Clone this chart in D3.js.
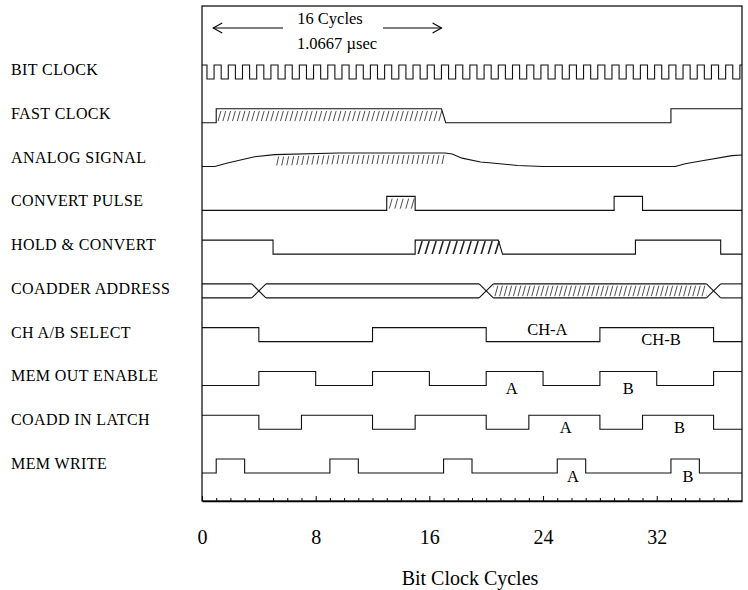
<!DOCTYPE html>
<html>
<head>
<meta charset="utf-8">
<script src="https://cdn.jsdelivr.net/npm/d3@7"></script>
<style>
  body { margin: 0; background: #fff; }
  svg text { font-family: "Liberation Serif", "Times New Roman", serif; fill: #000; }
</style>
</head>
<body>
<div id="chart"></div>
<script>
// signal rows, top to bottom
var signalNames = ["BIT CLOCK", "FAST CLOCK", "ANALOG SIGNAL", "CONVERT PULSE", "HOLD & CONVERT",
  "COADDER ADDRESS", "CH A/B SELECT", "MEM OUT ENABLE", "COADD IN LATCH", "MEM WRITE"];

// bit clock: one pulse per cycle, low between these fractions of the cycle
var bitClockCycles = [0,1,2,3,4,5,6,7,8,9,10,11,12,13,14,15,16,17,18,19,20,21,22,23,24,25,26,27,28,29,30,31,32,33,34,35,36,37];
var bitClockLow = [0.35, 0.85];

// digital signals: level at cycle 0, then the cycles where the level flips
var fastClockEdges = [1, 17, 33];
var convertPulseEdges = [13, 15, 29, 31];
var holdConvertEdges = [5, 15, 21, 30.5, 36.5];
var chSelectEdges = [4, 12, 20, 28, 36];
var memOutEdges = [4, 8, 12, 16, 20, 24, 28, 32, 36];
var coaddLatchEdges = [4, 7, 12, 15, 20, 23, 28, 31, 36];
var memWriteEdges = [1, 3, 9, 11, 17, 19, 25, 27, 33, 35];
var digitalRows = [
  ["FAST CLOCK", 0, fastClockEdges],
  ["CONVERT PULSE", 0, convertPulseEdges],
  ["HOLD & CONVERT", 1, holdConvertEdges],
  ["CH A/B SELECT", 1, chSelectEdges],
  ["MEM OUT ENABLE", 0, memOutEdges],
  ["COADD IN LATCH", 1, coaddLatchEdges],
  ["MEM WRITE", 0, memWriteEdges]
];
// edges drawn leaning (end of a hatched stretch)
var slantedEdges = [["FAST CLOCK", 17], ["HOLD & CONVERT", 21]];

// analog signal, level 0..1
var analogCycles = [0, 0.9, 1.8, 3.7, 5.1, 9.6, 17.1, 17.6, 18.3, 19.6, 20.4, 22.2, 24, 33.3, 34.0, 35.1, 37.3, 38];
var analogLevels = [0, 0, 0.25, 0.70, 0.85, 0.97, 0.97, 0.9, 0.6, 0.32, 0.25, 0.08, 0, 0, 0.2, 0.4, 0.78, 0.83];

// coadder address bus crossings
var addressCrossings = [4, 20, 36];

// hatched stretches [row, from, to]
var hatchSpans = [
  ["FAST CLOCK", 1, 16.9],
  ["ANALOG SIGNAL", 5.1, 17.1],
  ["CONVERT PULSE", 13, 15],
  ["HOLD & CONVERT", 15, 21],
  ["COADDER ADDRESS", 20.5, 35.5]
];

// text inside the waveforms [row, cycle, text, level]
var waveLabels = [
  ["CH A/B SELECT", 24.3, "CH-A", 0.8],
  ["CH A/B SELECT", 32.3, "CH-B", 0.15],
  ["MEM OUT ENABLE", 21.8, "A", -0.25],
  ["MEM OUT ENABLE", 30, "B", -0.25],
  ["COADD IN LATCH", 25.6, "A", 0.1],
  ["COADD IN LATCH", 33.6, "B", 0.1],
  ["MEM WRITE", 26.1, "A", -0.3],
  ["MEM WRITE", 34.2, "B", -0.3]
];

var minorTicks = [1,2,3,4,5,6,7,9,10,11,12,13,14,15,17,18,19,20,21,22,23,25,26,27,28,29,30,31,33,34,35,36,37];
var majorTicks = [0, 8, 16, 24, 32];
var spanCycles = [1, 17];

var width = 748, height = 590;
var svg = d3.select("#chart").append("svg")
  .attr("width", width)
  .attr("height", height);

var x = d3.scaleLinear().domain([0, 38]).range([202, 742]);
var rowY = d3.scalePoint().domain(signalNames).range([79, 473]);
var levelH = 14;
function yLev(name, v) { return rowY(name) - v * levelH; }

var line = d3.line().x(function(d) { return d[0]; }).y(function(d) { return d[1]; });
var defs = svg.append("defs");
var waves = svg.append("g").attr("fill", "none").attr("stroke", "#111").attr("stroke-width", 1.1);

// frame
svg.append("rect")
  .attr("x", x(0)).attr("y", 6)
  .attr("width", x(38) - x(0)).attr("height", 501 - 6)
  .attr("fill", "none").attr("stroke", "#000").attr("stroke-width", 1.2);

// row labels
svg.append("g").selectAll("text")
  .data(signalNames)
  .enter().append("text")
  .attr("x", 11)
  .attr("y", function(d) { return rowY(d) - 4; })
  .attr("font-size", 16)
  .attr("letter-spacing", 0.4)
  .text(function(d) { return d; });

// bit clock
var bc = [[x(0), yLev("BIT CLOCK", 1)]];
bitClockCycles.forEach(function(c) {
  var a = x(c + bitClockLow[0]), b = x(c + bitClockLow[1]);
  bc.push([a, yLev("BIT CLOCK", 1)], [a, yLev("BIT CLOCK", 0)], [b, yLev("BIT CLOCK", 0)], [b, yLev("BIT CLOCK", 1)]);
});
bc.push([x(38), yLev("BIT CLOCK", 1)]);
waves.append("path").attr("d", line(bc));

// digital signals
digitalRows.forEach(function(r) {
  var name = r[0], lev = r[1], edges = r[2];
  var pts = [[x(0), yLev(name, lev)]];
  edges.forEach(function(e) {
    var slant = slantedEdges.some(function(s) { return s[0] === name && s[1] === e; }) ? 0.15 : 0;
    pts.push([x(e - slant), yLev(name, lev)]);
    lev = 1 - lev;
    pts.push([x(e + slant), yLev(name, lev)]);
  });
  pts.push([x(38), yLev(name, lev)]);
  waves.append("path").attr("d", line(pts));
});

// analog signal
var analogPts = analogCycles.map(function(c, i) { return [x(c), yLev("ANALOG SIGNAL", analogLevels[i])]; });
waves.append("path").attr("d", line(analogPts));
var analogAt = d3.scaleLinear().domain(analogCycles).range(analogLevels);

// coadder address bus
var bus = "COADDER ADDRESS";
var busBounds = [0].concat(addressCrossings).concat([38]);
for (var i = 1; i < busBounds.length; i++) {
  var s = busBounds[i - 1] === 0 ? 0 : busBounds[i - 1] + 0.5;
  var e = busBounds[i] === 38 ? 38 : busBounds[i] - 0.5;
  waves.append("path").attr("d", line([[x(s), yLev(bus, 1)], [x(e), yLev(bus, 1)]]));
  waves.append("path").attr("d", line([[x(s), yLev(bus, 0)], [x(e), yLev(bus, 0)]]));
}
addressCrossings.forEach(function(c) {
  waves.append("path").attr("d", line([[x(c - 0.5), yLev(bus, 1)], [x(c + 0.5), yLev(bus, 0)]]));
  waves.append("path").attr("d", line([[x(c - 0.5), yLev(bus, 0)], [x(c + 0.5), yLev(bus, 1)]]));
});

// hatching
var hatchStyle = {
  "FAST CLOCK": { step: 4.8, lean: 3, w: 0.8, top: 2, bot: 1.5 },
  "ANALOG SIGNAL": { step: 5, lean: 3, w: 0.8 },
  "CONVERT PULSE": { step: 5.5, lean: 3, w: 0.8, top: 2, bot: 1.5 },
  "HOLD & CONVERT": { step: 7, lean: 4, w: 1.6, top: 1, bot: 0 },
  "COADDER ADDRESS": { step: 4.6, lean: 3, w: 0.8, top: 1.5, bot: 1.5 }
};
hatchSpans.forEach(function(h, k) {
  var name = h[0], st = hatchStyle[name];
  var x0 = x(h[1]), x1 = x(h[2]);
  var clip = defs.append("clipPath").attr("id", "hatch" + k);
  var yTop, yBot;
  if (name === "ANALOG SIGNAL") {
    var area = d3.area()
      .x(function(c) { return x(c); })
      .y0(function(c) { return yLev(name, analogAt(c)) + 2; })
      .y1(function(c) { return yLev(name, analogAt(c)) + 11; });
    clip.append("path").attr("d", area(d3.range(h[1], h[2] + 0.01, 0.1)));
    yTop = yLev(name, 1); yBot = yLev(name, 0);
  } else {
    yTop = yLev(name, 1) + st.top; yBot = yLev(name, 0) - st.bot;
    clip.append("rect").attr("x", x0).attr("y", yTop).attr("width", x1 - x0).attr("height", yBot - yTop);
  }
  var g = svg.append("g").attr("clip-path", "url(#hatch" + k + ")")
    .attr("stroke", "#222").attr("stroke-width", st.w);
  d3.range(x0 - st.lean, x1 + st.lean, st.step).forEach(function(px) {
    g.append("line")
      .attr("x1", px).attr("y1", yBot)
      .attr("x2", px + st.lean).attr("y2", yTop);
  });
});

// labels inside waveforms
svg.append("g").selectAll("text")
  .data(waveLabels)
  .enter().append("text")
  .attr("x", function(d) { return x(d[1]); })
  .attr("y", function(d) { return yLev(d[0], d[3]) + 5; })
  .attr("text-anchor", "middle")
  .attr("font-size", 16.5)
  .text(function(d) { return d[2]; });

// 16 cycle span annotation
var ay = 28;
var ann = svg.append("g").attr("fill", "none").attr("stroke", "#000").attr("stroke-width", 1.1);
ann.append("path").attr("d", line([[x(spanCycles[0]) - 3, ay], [283, ay]]));
ann.append("path").attr("d", line([[x(spanCycles[0]) + 6, ay - 5], [x(spanCycles[0]) - 3, ay], [x(spanCycles[0]) + 6, ay + 5]]));
ann.append("path").attr("d", line([[383, ay], [x(spanCycles[1]) - 2, ay]]));
ann.append("path").attr("d", line([[x(spanCycles[1]) - 11, ay - 5], [x(spanCycles[1]) - 2, ay], [x(spanCycles[1]) - 11, ay + 5]]));
svg.append("text").attr("x", 330).attr("y", 24).attr("text-anchor", "middle").attr("font-size", 16.5).text("16 Cycles");
svg.append("text").attr("x", 337).attr("y", 49).attr("text-anchor", "middle").attr("font-size", 16.5).text("1.0667 \u00b5sec");

// axis
svg.append("g")
  .attr("transform", "translate(0,501)")
  .call(d3.axisBottom(x).tickValues(minorTicks).tickSize(-3).tickSizeOuter(0).tickFormat(""))
  .call(function(g) { g.select(".domain").attr("stroke-width", 1.4); });
var major = svg.append("g")
  .attr("transform", "translate(0,501)")
  .call(d3.axisBottom(x).tickValues(majorTicks).tickSize(-5).tickSizeOuter(0).tickPadding(29));
major.select(".domain").remove();
major.selectAll("text").attr("font-size", 20).attr("font-family", "Liberation Serif, serif");

svg.append("text")
  .attr("x", 470).attr("y", 585)
  .attr("text-anchor", "middle")
  .attr("font-size", 20)
  .text("Bit Clock Cycles");
</script>
</body>
</html>
